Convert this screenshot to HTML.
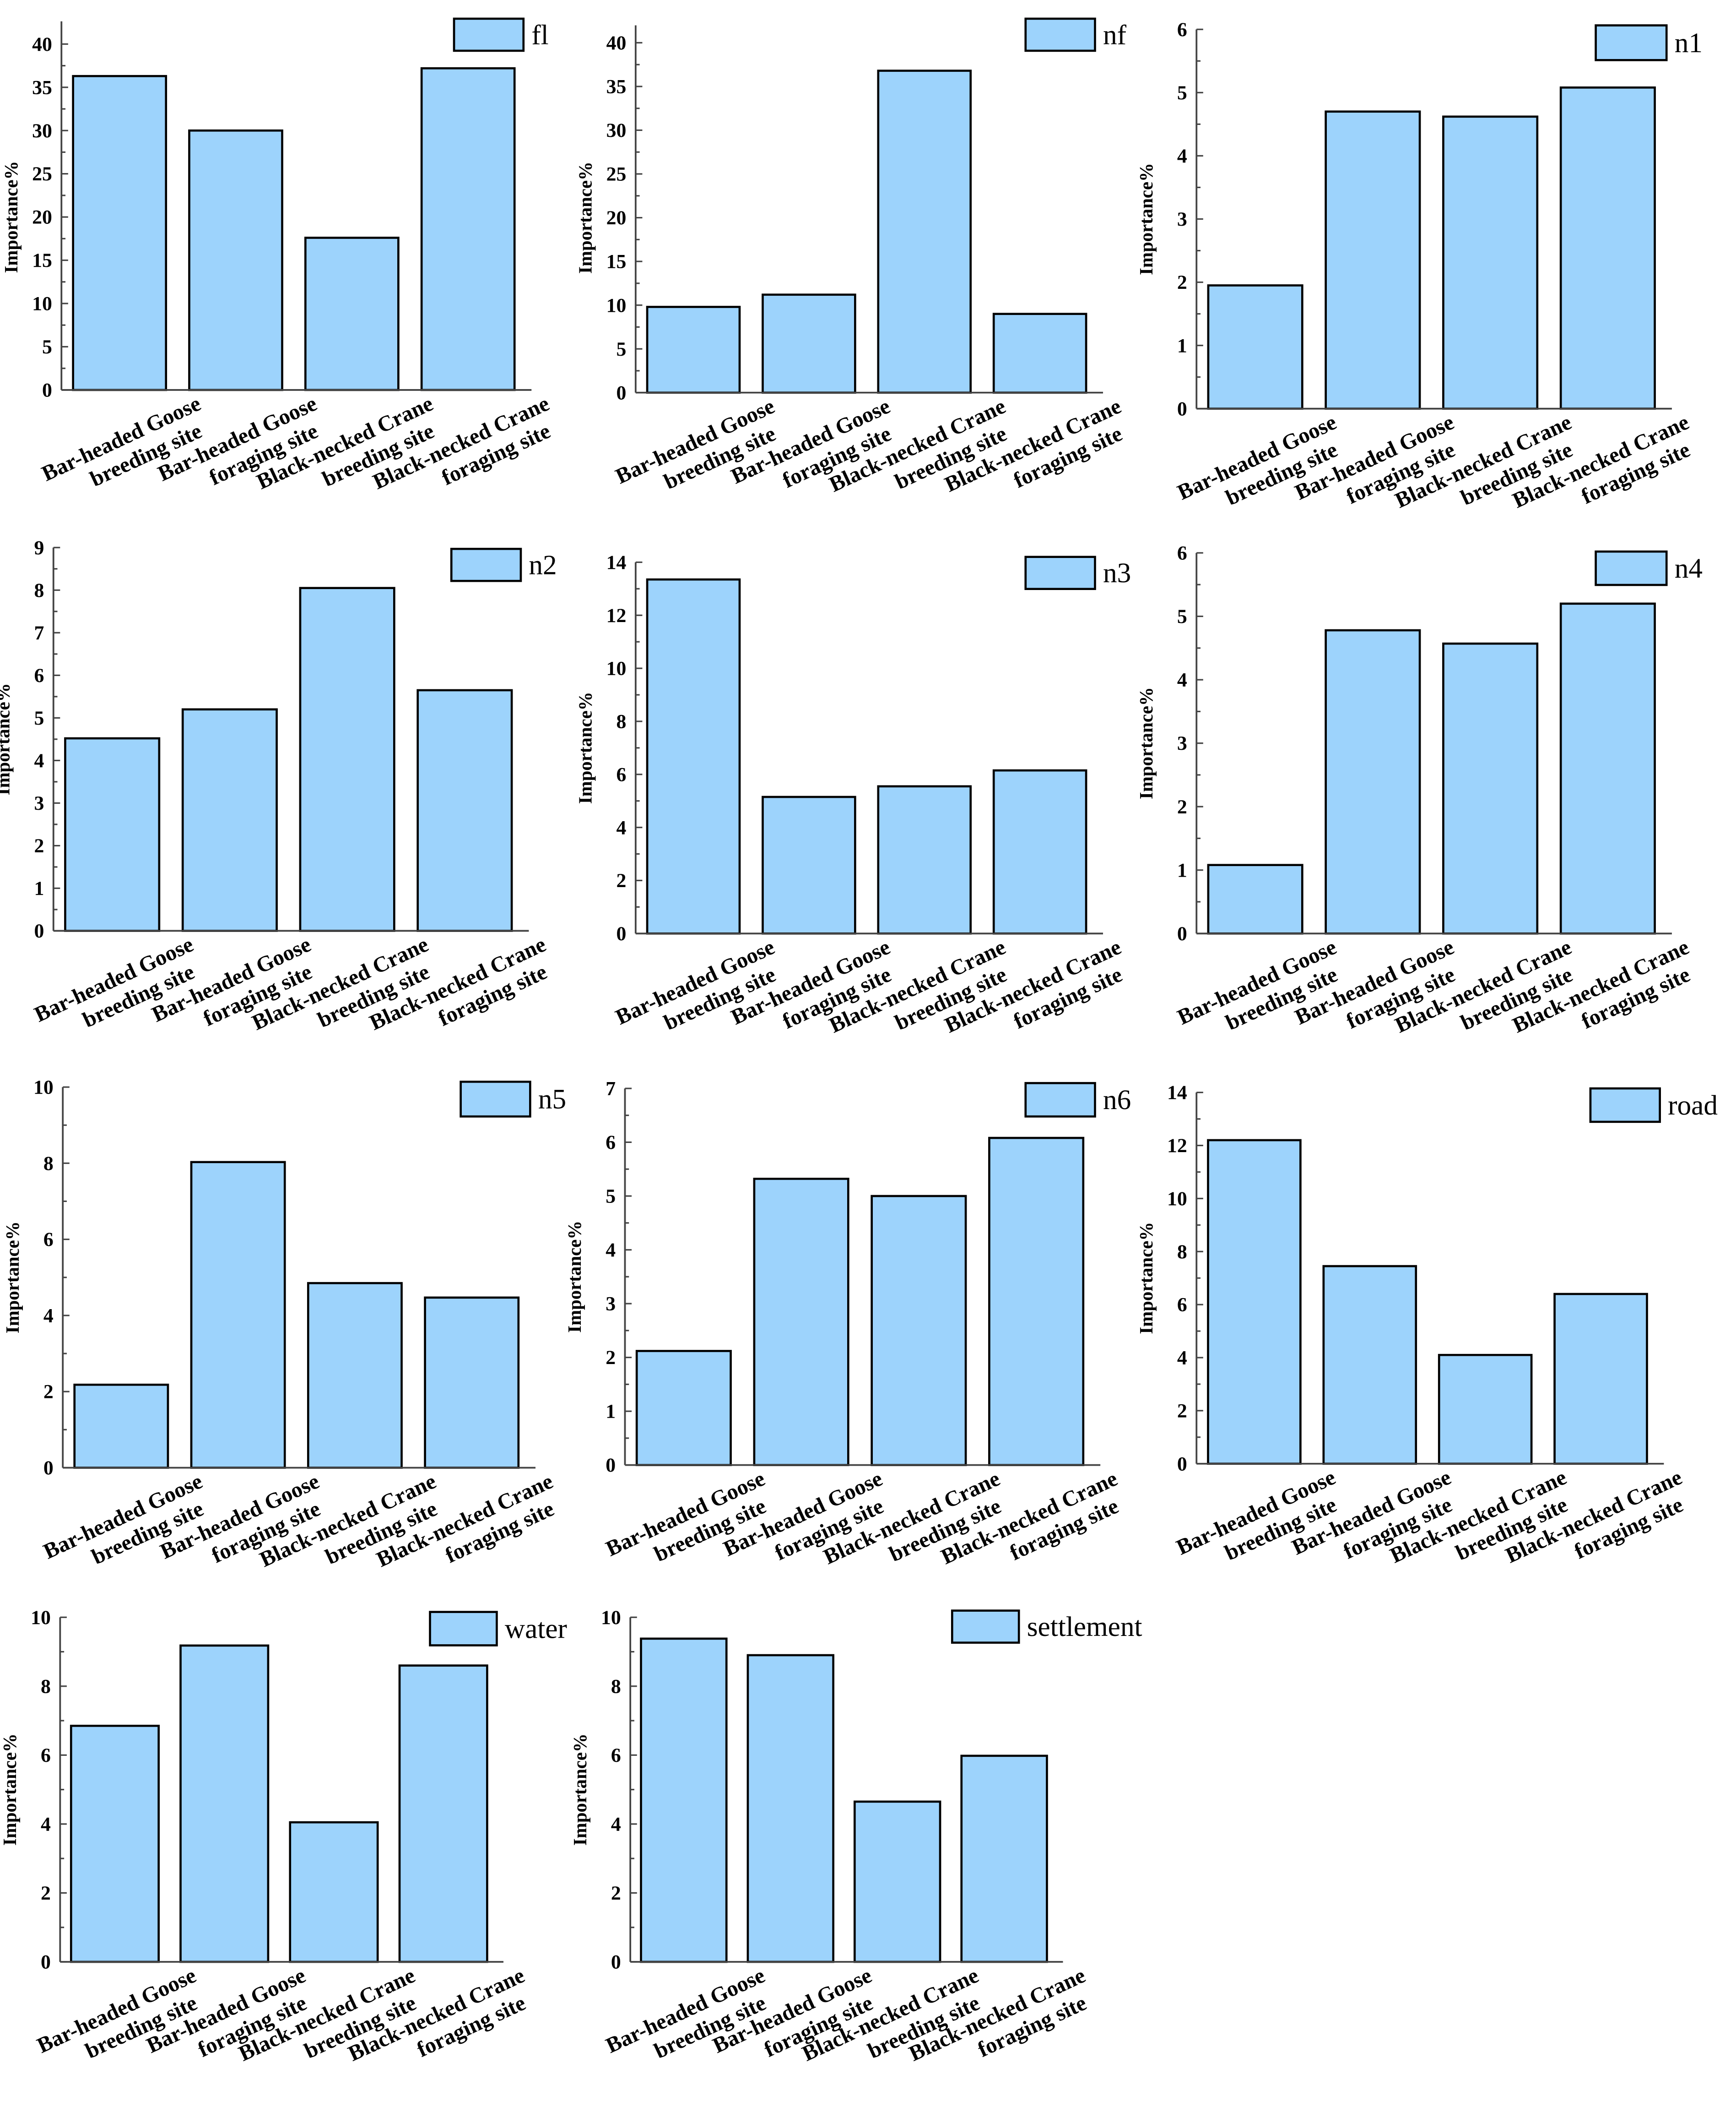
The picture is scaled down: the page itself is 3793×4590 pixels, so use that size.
<!DOCTYPE html>
<html><head><meta charset="utf-8"><style>
html,body{margin:0;padding:0;background:#fff}
svg{display:block}
text{font-family:"Liberation Serif",serif;fill:#000}
</style></head><body>
<svg id="fig" width="3793" height="4590" viewBox="0 0 1300 1573.2" xmlns="http://www.w3.org/2000/svg"></svg>
<script>
const categoriesLine1 = ["Bar-headed Goose","Bar-headed Goose","Black-necked Crane","Black-necked Crane"];
const categoriesLine2 = ["breeding site","foraging site","breeding site","foraging site"];
const seriesNames = ["fl","nf","n1","n2","n3","n4","n5","n6","road","water","settlement"];
const valuesFl = [36.3, 30.0, 17.6, 37.2];
const valuesNf = [9.8, 11.2, 36.8, 9.0];
const valuesN1 = [1.95, 4.7, 4.62, 5.08];
const valuesN2 = [4.52, 5.2, 8.05, 5.65];
const valuesN3 = [13.35, 5.15, 5.55, 6.15];
const valuesN4 = [1.08, 4.78, 4.57, 5.2];
const valuesN5 = [2.18, 8.03, 4.85, 4.47];
const valuesN6 = [2.12, 5.32, 5.0, 6.08];
const valuesRoad = [12.2, 7.45, 4.1, 6.4];
const valuesWater = [6.85, 9.18, 4.05, 8.6];
const valuesSettlement = [9.38, 8.9, 4.65, 5.98];
const yMaxes = [40, 40, 6, 9, 14, 6, 10, 7, 14, 10, 10];
const tickSteps = [5, 5, 1, 1, 2, 1, 2, 1, 2, 2, 2];
const allValues = [valuesFl,valuesNf,valuesN1,valuesN2,valuesN3,valuesN4,valuesN5,valuesN6,valuesRoad,valuesWater,valuesSettlement];

// layout (display units)
const layout = [
 {x0:46, pitch:87, y0:292, yTopPx:33, axTop:16, lg:[340,14,52,24]},
 {x0:476, pitch:86.5, y0:294, yTopPx:32, axTop:19, lg:[768,14,52,24]},
 {x0:896, pitch:88, y0:306, yTopPx:22, axTop:22, lg:[1195,19,53,26]},
 {x0:40, pitch:88, y0:697, yTopPx:410, axTop:410, lg:[338,411,52,24]},
 {x0:476, pitch:86.5, y0:699, yTopPx:421, axTop:421, lg:[768,417,52,24]},
 {x0:896, pitch:88, y0:699, yTopPx:414, axTop:414, lg:[1195,413,53,25]},
 {x0:47, pitch:87.5, y0:1099, yTopPx:814, axTop:814, lg:[345,810,52,26]},
 {x0:468, pitch:88, y0:1097, yTopPx:815, axTop:815, lg:[768,811,52,25]},
 {x0:896, pitch:86.5, y0:1096, yTopPx:818, axTop:818, lg:[1191,815,52,25]},
 {x0:45, pitch:82, y0:1469, yTopPx:1211, axTop:1211, lg:[322,1207,50,25]},
 {x0:472, pitch:80, y0:1469, yTopPx:1211, axTop:1211, lg:[713,1206,50,24]}
];
const NS="http://www.w3.org/2000/svg";
const svg=document.getElementById('fig');
function mk(tag,attrs,parent){const e=document.createElementNS(NS,tag);for(const k in attrs)e.setAttribute(k,attrs[k]);(parent||svg).appendChild(e);return e;}

seriesNames.forEach((name,p)=>{
  const L=layout[p], vals=allValues[p], ymax=yMaxes[p], step=tickSteps[p];
  const g=mk('g',{});
  
  
  const yS=v=>L.y0-(v/ymax)*(L.y0-L.yTopPx);
  const xS=i=>L.x0+L.pitch*(i+0.5);
  const x1=L.x0+L.pitch*4;
  vals.forEach((v,i)=>{
    const r=mk('rect',{x:xS(i)-L.pitch*0.4,y:yS(v),width:L.pitch*0.8,height:L.y0-yS(v),fill:'#9dd3fc',stroke:'#000','stroke-width':1.6},g);
    
    
  });
  const ya=mk('line',{x1:L.x0,y1:L.axTop,x2:L.x0,y2:L.y0,stroke:'#444','stroke-width':1.3},g);
  
  
  const xa=mk('line',{x1:L.x0,y1:L.y0,x2:x1+4,y2:L.y0,stroke:'#444','stroke-width':1.3},g);
  
  
  for(let t=0;t<=ymax+1e-9;t+=step/2){
    const major=Math.abs(t/step-Math.round(t/step))<1e-6;
    mk('line',{x1:L.x0,y1:yS(t),x2:L.x0+(major?5:3),y2:yS(t),stroke:'#444','stroke-width':1.1},g);
    if(major){
      const tl=mk('text',{x:L.x0-7,y:yS(t)+5,'text-anchor':'end','font-size':15,'font-weight':'bold'},g);
      tl.textContent=String(Math.round(t));
      
      
    }
  }
  const yt=mk('text',{transform:`translate(${L.x0-33},${(L.y0+L.yTopPx)/2}) rotate(-90)`,'text-anchor':'middle','font-size':14,'font-weight':'bold'},g);
  yt.textContent='Importance%';
  
  
  categoriesLine1.forEach((c,i)=>{
    const ax=xS(i)+62, ay=L.y0+14;
    const t=mk('text',{transform:`translate(${ax},${ay}) rotate(-25)`,'text-anchor':'end','font-size':16.5,'font-weight':'bold'},g);
    
    
    const s1=mk('tspan',{x:0,y:0},t); s1.textContent=c;
    const s2=mk('tspan',{x:-8,y:19},t); s2.textContent=categoriesLine2[i];
  });
  const [lx,ly,lw,lh]=L.lg;
  const lb=mk('rect',{x:lx,y:ly,width:lw,height:lh,fill:'#9dd3fc',stroke:'#000','stroke-width':1.6},g);
  
  
  const lt=mk('text',{x:lx+lw+6,y:ly+lh/2+7,'font-size':21},g);
  lt.textContent=name;
  
  
});
</script>
</body></html>
